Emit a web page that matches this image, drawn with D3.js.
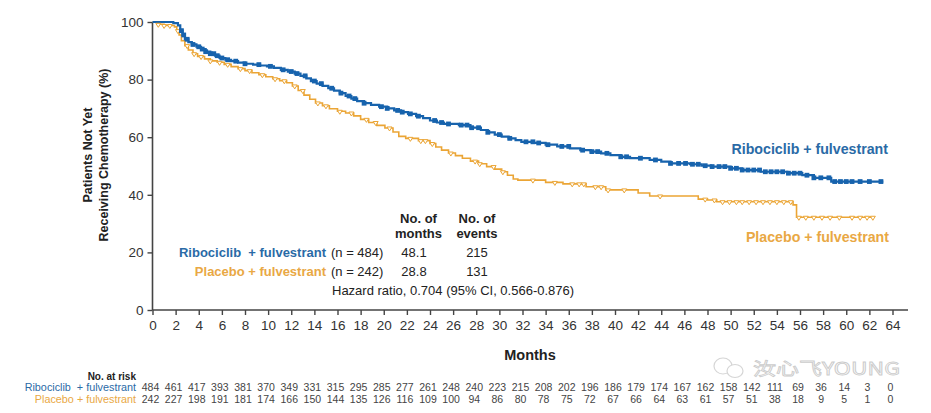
<!DOCTYPE html>
<html>
<head>
<meta charset="utf-8">
<script src="https://cdn.jsdelivr.net/npm/d3@7"></script>
<style>
html,body{margin:0;padding:0;background:#fff;}
svg{display:block;font-family:"Liberation Sans",Arial,sans-serif;}
</style>
</head>
<body>
<svg id="chart" width="931" height="413"></svg>
<script>
// ---------- DATA ----------
const xTicks = d3.range(0, 65, 2);
const yTicks = [0, 20, 40, 60, 80, 100];

const riboTimes = [0,1.8,2.2,2.4,2.6,2.8,3.1,3.4,3.8,4.2,4.6,5.0,5.4,5.8,6.3,6.8,7.4,8.0,8.7,9.3,9.9,10.5,11.1,11.7,12.3,12.8,13.3,13.7,14.2,14.7,15.2,15.7,16.2,16.7,17.2,17.7,18.3,18.9,19.6,20.3,20.9,21.5,22.1,22.8,23.4,24.0,24.6,25.2,26.5,27.5,28.4,29.0,29.6,30.2,30.8,31.4,31.9,33.0,34.0,35.0,36.1,37.0,37.9,38.8,39.6,40.5,41.3,43.0,44.0,44.8,46.5,47.5,48.3,50.0,51.0,52.6,54.9,56.2,57.2,58.7];
const riboSurv  = [100,99.6,98.8,97,95.5,94,93,92.2,91.4,90.6,89.7,89.0,88.3,87.5,86.9,86.4,85.9,85.5,85.2,84.9,84.6,84.1,83.4,82.8,82.1,81.3,80.4,79.5,78.6,77.8,77.0,76.2,75.3,74.3,73.4,72.5,71.8,71.2,70.6,70.0,69.3,68.7,68.1,67.3,66.6,65.8,65.1,64.6,64.2,63.3,62.5,61.7,60.9,60.2,59.6,59.0,58.4,58.0,57.4,56.8,56.1,55.5,55.0,54.4,53.8,53.2,52.7,52.1,51.5,50.9,50.6,50.1,49.8,49.2,48.6,48.0,47.5,46.8,45.9,44.6];
const riboEnd = 63.2;
const riboCensor = [2.5,2.7,3.0,3.5,4.0,4.3,4.6,5.0,5.3,5.6,6.0,6.5,7.2,8.0,9.2,10.2,11.3,12.0,12.5,13.2,14.0,14.6,15.5,16.3,17.0,17.5,18.3,19.8,20.3,21.2,21.6,22.3,23.0,24.4,25.0,25.6,26.7,27.2,27.6,28.2,29.0,30.0,30.9,32.3,32.9,33.4,34.2,35.4,36.0,37.2,38.0,38.5,39.3,40.5,41.0,42.2,43.5,44.8,45.5,46.1,46.7,47.2,47.8,48.4,49.0,49.5,50.0,50.5,51.0,51.5,52.0,52.5,53.0,53.5,54.0,54.5,55.0,55.5,56.0,56.6,57.2,57.8,58.5,59.0,59.5,60.0,60.5,61.2,62.0,63.0];

const placTimes = [0,0.4,1.0,1.9,2.1,2.3,2.5,2.8,3.1,3.5,3.9,4.5,5.0,5.6,6.2,6.8,7.4,8.0,8.6,9.2,9.8,10.4,11.0,11.6,12.1,12.6,13.1,13.6,14.1,14.7,15.3,16.0,16.7,17.4,18.0,18.7,19.4,20.1,20.8,21.3,21.9,23.0,24.0,24.5,25.0,25.6,26.2,26.8,27.5,28.2,28.9,29.6,30.2,30.7,31.2,31.6,34.0,35.5,37.5,39.2,42.0,43.0,47.2,48.0,48.8,55.4,55.7];
const placSurv  = [100,99.2,98.8,98.3,97,95.5,93.5,91.8,90.3,89.0,88.0,87.2,86.5,86.0,85.3,84.5,83.8,83.1,82.4,81.7,81.0,80.3,79.6,78.9,77.8,76.2,74.6,73.2,71.9,70.9,69.9,69.0,68.4,67.4,66.2,65.1,64.1,63.2,61.8,60.3,59.6,58.8,57.8,56.6,55.5,54.5,53.6,52.7,51.7,50.8,49.8,48.9,48.0,46.8,45.5,45.1,44.3,43.8,42.8,41.7,40.6,39.6,38.5,38.2,37.6,36.5,32.2];
const placEnd = 62.4;
const placCensor = [0.5,1.0,1.5,2.2,3.0,3.6,4.2,5.0,5.8,6.5,7.6,8.4,9.5,10.6,11.4,12.3,13.0,14.3,15.0,16.2,17.2,18.5,19.3,20.5,22.3,23.2,23.6,24.2,25.8,27.9,28.3,29.5,30.3,32.9,34.8,36.3,36.9,37.3,38.3,38.8,39.4,40.8,43.9,47.8,48.6,49.3,49.9,50.5,51.0,51.6,52.2,52.8,53.4,54.0,54.6,55.2,55.9,56.5,57.2,57.9,58.6,59.4,60.5,61.2,61.8,62.3];

const riskRibo = [484,461,417,393,381,370,349,331,315,295,285,277,261,248,240,223,215,208,202,196,186,179,174,167,162,158,142,111,69,36,14,3,0];
const riskPlac = [242,227,198,191,181,174,166,150,144,135,126,116,109,100,94,86,80,78,75,72,67,66,64,63,61,57,51,38,18,9,5,1,0];

const tableRows = [
  {name:"Ribociclib  + fulvestrant", n:"(n = 484)", months:"48.1", events:"215", key:"ribo"},
  {name:"Placebo + fulvestrant", n:"(n = 242)", months:"28.8", events:"131", key:"plac"}
];
const hazardText = "Hazard ratio, 0.704 (95% CI, 0.566-0.876)";

// ---------- STYLE ----------
const BLUE = "#1763ad", ORANGE = "#eba535";
const BLUE_T = "#2a6aa6", ORANGE_T = "#e9a844";
const AX = "#444";

const svg = d3.select("#chart");
const x = d3.scaleLinear().domain([0, 64]).range([152.5, 892.5]);
const y = d3.scaleLinear().domain([0, 100]).range([310, 22]);

// axes
const xAxis = svg.append("g").attr("transform","translate(0,310)")
  .call(d3.axisBottom(x).tickValues(xTicks).tickSize(5).tickPadding(5).tickFormat(d3.format("d")));
xAxis.select(".domain").attr("d", `M${x(0)},0H908`);
const yAxis = svg.append("g").attr("transform","translate(152.5,0)")
  .call(d3.axisLeft(y).tickValues(yTicks).tickSize(5).tickPadding(4));
yAxis.select(".domain").attr("d", `M0,${y(100)}V${y(0)}`);
[xAxis,yAxis].forEach(g=>{
  g.select(".domain").attr("stroke",AX).attr("stroke-width",1.6);
  g.selectAll(".tick line").attr("stroke",AX).attr("stroke-width",1.4);
  g.selectAll(".tick text").attr("fill","#333").style("font-size","13.5px").style("font-family","'Liberation Sans',Arial,sans-serif");
});

// axis titles
svg.append("text").attr("x",530).attr("y",360).attr("text-anchor","middle")
  .style("font-size","14.5px").style("font-weight","bold").attr("fill","#222").text("Months");
const yt = svg.append("g").attr("transform","translate(0,155) rotate(-90)");
yt.append("text").attr("x",0).attr("y",92).attr("text-anchor","middle")
  .style("font-size","12.5px").style("font-weight","bold").attr("fill","#222").text("Patients Not Yet");
yt.append("text").attr("x",0).attr("y",108).attr("text-anchor","middle")
  .style("font-size","12.5px").style("font-weight","bold").attr("fill","#222").text("Receiving Chemotherapy (%)");

// curves
function pts(times, surv, end){
  const p = times.map((t,i)=>[t, surv[i]]);
  p.push([end, surv[surv.length-1]]);
  return p;
}
function survAt(times, surv, t){
  let v = surv[0];
  for (let i=0;i<times.length;i++){ if (times[i] <= t) v = surv[i]; else break; }
  return v;
}
const line = d3.line().x(d=>x(d[0])).y(d=>y(d[1])).curve(d3.curveStepAfter);

svg.append("path").datum(pts(placTimes, placSurv, placEnd))
  .attr("d", line).attr("fill","none").attr("stroke",ORANGE).attr("stroke-width",1.6);
svg.append("path").datum(pts(riboTimes, riboSurv, riboEnd))
  .attr("d", line).attr("fill","none").attr("stroke",BLUE).attr("stroke-width",2.2);

// censor marks
svg.append("g").selectAll("path").data(placCensor).join("path")
  .attr("d", d=>{const cx=x(d), cy=y(survAt(placTimes,placSurv,d)); return `M${cx-2.5},${cy-1}L${cx+2.5},${cy-1}L${cx},${cy+3}Z`;})
  .attr("fill","#fff").attr("stroke",ORANGE).attr("stroke-width",1);
svg.append("g").selectAll("rect").data(riboCensor).join("rect")
  .attr("x", d=>x(d)-2.4).attr("y", d=>y(survAt(riboTimes,riboSurv,d))-2.4)
  .attr("width",4.8).attr("height",4.8).attr("fill",BLUE);

// curve labels
svg.append("text").attr("x",888).attr("y",154).attr("text-anchor","end")
  .style("font-size","14.2px").style("font-weight","bold").attr("fill",BLUE_T).text("Ribociclib + fulvestrant");
svg.append("text").attr("x",889).attr("y",242).attr("text-anchor","end")
  .style("font-size","14.2px").style("font-weight","bold").attr("fill",ORANGE_T).text("Placebo + fulvestrant");

// summary table
const tb = svg.append("g").style("font-size","13px");
[["No. of",418.5,223],["months",418.5,238],["No. of",477,223],["events",477,238]].forEach(d=>{
  tb.append("text").attr("x",d[1]).attr("y",d[2]).attr("text-anchor","middle")
    .style("font-weight","bold").attr("fill","#222").text(d[0]);
});
tableRows.forEach((r,i)=>{
  const yy = 257 + i*19;
  tb.append("text").attr("x",326).attr("y",yy).attr("text-anchor","end").style("font-weight","bold")
    .attr("fill", r.key==="ribo"?BLUE_T:ORANGE_T).style("white-space","pre").text(r.name);
  tb.append("text").attr("x",331).attr("y",yy).attr("fill","#222").text(r.n);
  tb.append("text").attr("x",414).attr("y",yy).attr("text-anchor","middle").attr("fill","#222").text(r.months);
  tb.append("text").attr("x",477).attr("y",yy).attr("text-anchor","middle").attr("fill","#222").text(r.events);
});
tb.append("text").attr("x",332).attr("y",295).attr("fill","#222").text(hazardText);

// at-risk table
const rk = svg.append("g");
rk.append("text").attr("x",136).attr("y",380).attr("text-anchor","end").style("font-size","10px").style("font-weight","bold").attr("fill","#222").text("No. at risk");
rk.append("text").attr("x",136).attr("y",391).attr("text-anchor","end").style("font-size","10.8px").attr("fill",BLUE_T)
  .style("white-space","pre").text("Ribociclib  + fulvestrant");
rk.append("text").attr("x",136).attr("y",403).attr("text-anchor","end").style("font-size","10.8px").attr("fill",ORANGE_T)
  .text("Placebo + fulvestrant");
const numFont = "'Liberation Sans Narrow','Liberation Sans',Arial,sans-serif";
rk.selectAll("t1").data(riskRibo).join("text").attr("x",(d,i)=>x(xTicks[i])-2).attr("y",391)
  .attr("text-anchor","middle").style("font-size","10.5px").style("font-family",numFont).attr("fill","#444").text(d=>d);
rk.selectAll("t2").data(riskPlac).join("text").attr("x",(d,i)=>x(xTicks[i])-2).attr("y",403)
  .attr("text-anchor","middle").style("font-size","10.5px").style("font-family",numFont).attr("fill","#444").text(d=>d);

// watermark
const wm = svg.append("g").attr("opacity",0.6);
wm.append("ellipse").attr("cx",723).attr("cy",366).attr("rx",9).attr("ry",8).attr("fill","none").attr("stroke","#bbb").attr("stroke-width",1.2);
wm.append("ellipse").attr("cx",735).attr("cy",371).attr("rx",8).attr("ry",6.5).attr("fill","#fff").attr("stroke","#bbb").attr("stroke-width",1.2);
wm.append("text").attr("x",753).attr("y",375).attr("textLength",147).attr("lengthAdjust","spacingAndGlyphs")
  .style("font-size","17px").style("font-family","'Noto Sans CJK SC',sans-serif")
  .attr("fill","none").attr("stroke","#aaa").attr("stroke-width",0.8).text("汝心飞YOUNG");
</script>
</body>
</html>
